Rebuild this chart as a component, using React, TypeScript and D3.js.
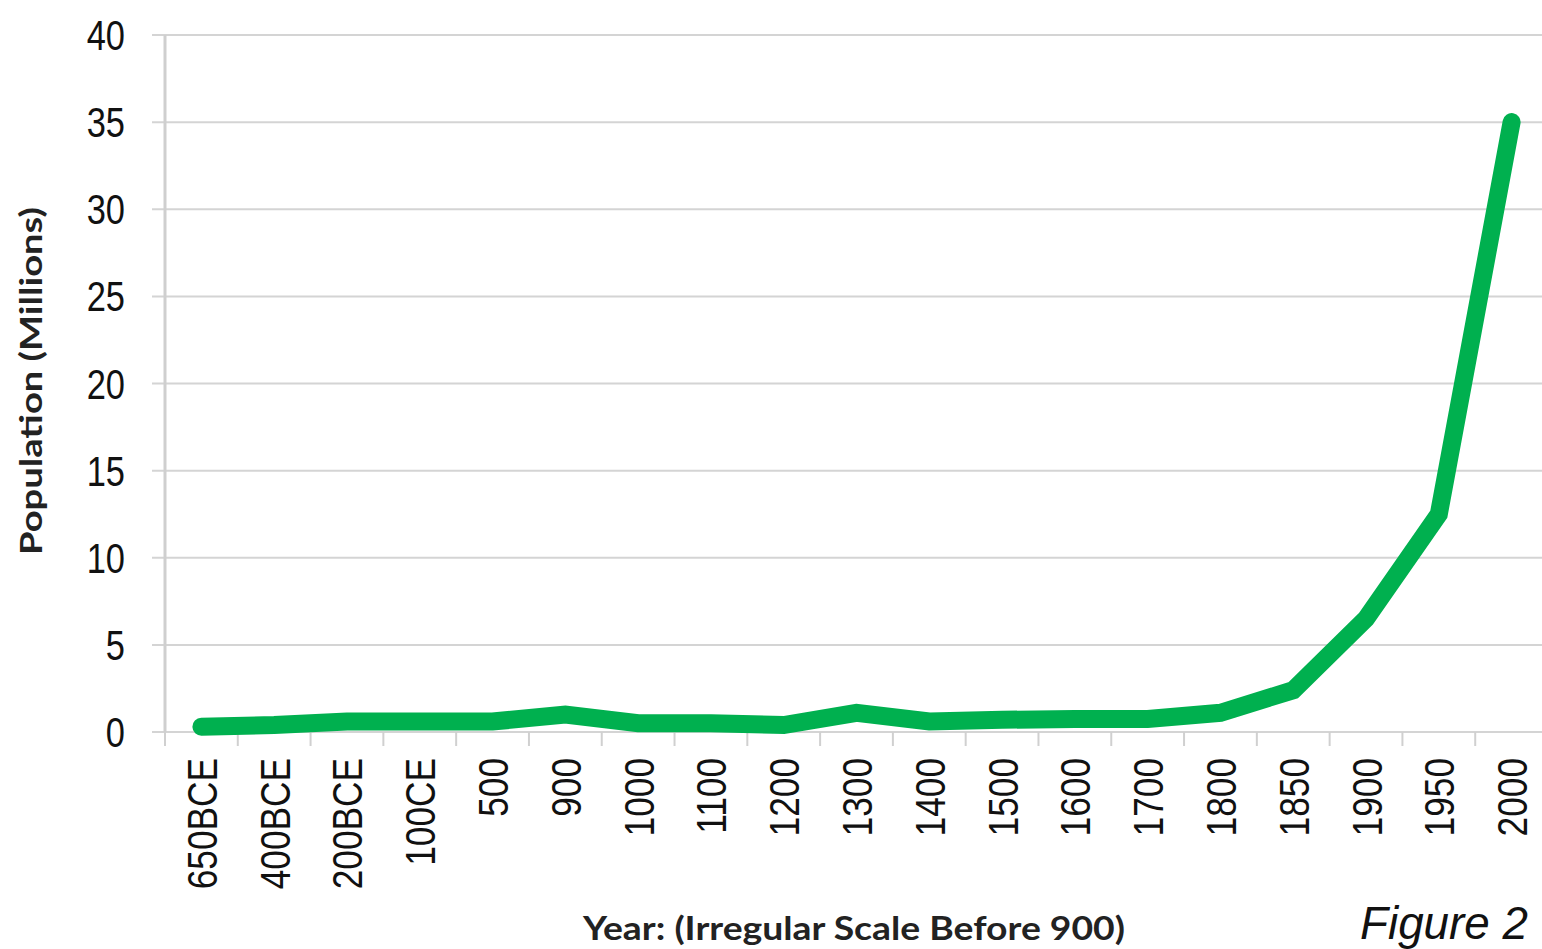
import React from "react";
import * as d3 from "d3";

const years = [
  "650BCE", "400BCE", "200BCE", "100CE", "500", "900", "1000", "1100", "1200", "1300",
  "1400", "1500", "1600", "1700", "1800", "1850", "1900", "1950", "2000",
];
const population = [
  0.3, 0.4, 0.6, 0.6, 0.6, 1.0, 0.5, 0.5, 0.4, 1.1,
  0.6, 0.7, 0.75, 0.75, 1.1, 2.4, 6.5, 12.5, 35,
];
const yTicks = [0, 5, 10, 15, 20, 25, 30, 35, 40];

const W = 1542;
const H = 949;
const margin = { top: 35, right: -6, bottom: 217, left: 165 };

// Arial Narrow is not available, so squeeze Liberation Sans horizontally
const narrow = "'Liberation Sans', Arial, sans-serif";
const squeeze = 0.82;
const titleFont = "Lato, 'Open Sans', sans-serif";

export default function App() {
  const innerW = W - margin.left - margin.right;
  const innerH = H - margin.top - margin.bottom;

  const x = d3.scaleBand<string>().domain(years).range([0, innerW]);
  const y = d3.scaleLinear().domain([0, 40]).range([innerH, 0]);

  const line = d3
    .line<number>()
    .x((_, i) => (x(years[i]) || 0) + x.bandwidth() / 2)
    .y((d) => y(d));

  return (
    <svg
      width={W}
      height={H}
      style={{ position: "absolute", left: 0, top: 0, background: "#fff" }}
    >
      <g transform={`translate(${margin.left},${margin.top})`}>
        {/* gridlines + y labels */}
        {yTicks.map((t) => (
          <g key={t}>
            <line x1={-13} x2={innerW} y1={y(t)} y2={y(t)} stroke="#d4d4d4" strokeWidth={2} />
            <text
              transform={`translate(-40,${y(t)}) scale(${squeeze},1)`}
              dy="0.36em"
              textAnchor="end"
              fontFamily={narrow}
              fontSize={42}
              fill="#111"
            >
              {t}
            </text>
          </g>
        ))}
        {/* y axis line */}
        <line x1={0} x2={0} y1={0} y2={innerH} stroke="#cfcfcf" strokeWidth={3} />
        {/* x ticks */}
        {years.map((yr, i) => (
          <line
            key={"t" + yr}
            x1={x.step() * i}
            x2={x.step() * i}
            y1={innerH}
            y2={innerH + 14}
            stroke="#d0d0d0"
            strokeWidth={2}
          />
        ))}
        {/* x labels */}
        {years.map((yr) => (
          <text
            key={yr}
            transform={`translate(${(x(yr) || 0) + x.bandwidth() / 2},${innerH + 26}) rotate(-90) scale(${squeeze},1)`}
            textAnchor="end"
            dy="0.36em"
            fontFamily={narrow}
            fontSize={43}
            fill="#111"
          >
            {yr}
          </text>
        ))}
        {/* data line */}
        <path
          d={line(population) || ""}
          fill="none"
          stroke="#00b04f"
          strokeWidth={18}
          strokeLinecap="round"
          strokeLinejoin="miter"
        />
      </g>
      {/* axis titles */}
      <text
        transform={`translate(42,381) rotate(-90)`}
        textAnchor="middle"
        fontFamily={titleFont}
        fontWeight="bold"
        fontSize={30}
        fill="#222"
        textLength={348}
        lengthAdjust="spacingAndGlyphs"
      >
        Population (Millions)
      </text>
      <text
        x={854}
        y={940}
        textAnchor="middle"
        fontFamily={titleFont}
        fontWeight="bold"
        fontSize={32}
        fill="#222"
        textLength={542}
        lengthAdjust="spacingAndGlyphs"
      >
        Year: (Irregular Scale Before 900)
      </text>
      <text
        x={1360}
        y={939}
        fontFamily={narrow}
        fontStyle="italic"
        fontSize={46}
        fill="#111"
        textLength={168}
        lengthAdjust="spacingAndGlyphs"
      >
        Figure 2
      </text>
    </svg>
  );
}
